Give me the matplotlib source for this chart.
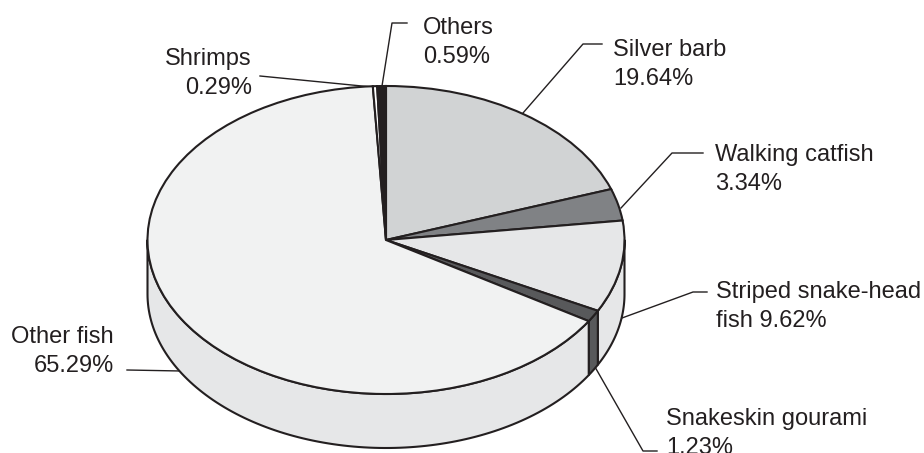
import numpy as np
import matplotlib
matplotlib.use("Agg")
import matplotlib.pyplot as plt
from matplotlib.transforms import Affine2D

plt.rcParams['font.family'] = ['Liberation Sans', 'DejaVu Sans']

# clockwise from twelve o'clock
species = ['Silver barb', 'Walking catfish', 'Striped snake-head fish', 'Snakeskin gourami',
           'Other fish', 'Shrimps', 'Others']
shares = [19.64, 3.34, 9.62, 1.23, 65.29, 0.29, 0.59]
top_colors = ['#d1d3d4', '#808285', '#e6e7e8', '#58595b', '#f1f2f2', '#ffffff', '#231f20']
side_colors = ['#d1d3d4', '#808285', '#e6e7e8', '#58595b', '#e6e7e8', '#ffffff', '#231f20']

W, H = 924, 453
CX, CY = 386, 240    # pie centre in pixels
RX, RY = 238.5, 154  # radii in pixels
DEPTH = 54 / RY      # thickness of the disc
INK = '#231f20'

fig = plt.figure(figsize=(W / 100, H / 100), dpi=100)
ax = fig.add_axes([0, 0, 1, 1])

wedges, _ = ax.pie(shares, colors=top_colors, startangle=90, counterclock=False, radius=1,
                   wedgeprops={'edgecolor': INK, 'linewidth': 1.5, 'zorder': 3})
# squash the circle into a tilted disc
ax.set_aspect('auto')
ax.set_xlim(-CX / RX, (W - CX) / RX)
ax.set_ylim(-(H - CY) / RY, CY / RY)
ax.axis('off')

# side wall: only the part of each slice on the near half shows
for w, c in zip(wedges, side_colors):
    t1, t2 = w.theta1 % 360, w.theta2 % 360
    if t2 <= t1:
        t2 += 360
    lo, hi = max(t1, 180), min(t2, 360)
    if hi <= lo:
        continue
    a = np.radians(np.linspace(lo, hi, 120))
    x, y = np.cos(a), np.sin(a)
    ax.fill(np.r_[x, x[::-1]], np.r_[y, y[::-1] - DEPTH], facecolor=c, edgecolor=INK,
            linewidth=1.5, zorder=2, joinstyle='round')

px = Affine2D().scale(1 / W, -1 / H).translate(0, 1) + fig.transFigure

# leader lines, pixel positions
leaders = [
    [(523, 113), (583, 44), (602, 44)],
    [(621, 208), (672, 153), (703, 153)],
    [(622, 318), (693, 292), (707, 292)],
    [(595, 367), (643, 451), (657, 451)],
    [(181, 371), (127, 370)],
    [(372, 87), (260, 76)],
    [(382, 86), (392, 23), (407, 23)],
]
for pts in leaders:
    xs, ys = zip(*pts)
    ax.plot(xs, ys, color=INK, lw=1.0, transform=px, zorder=1, clip_on=False)

font = 17
labels = [
    (613, 39, 'Silver barb\n19.64%', 'left'),
    (715, 144, 'Walking catfish\n3.34%', 'left'),
    (716, 281, 'Striped snake-head\nfish 9.62%', 'left'),
    (666, 408, 'Snakeskin gourami\n1.23%', 'left'),
    (114, 326, 'Other fish\n65.29%', 'right'),
    (252, 48, 'Shrimps\n0.29%', 'right'),
    (423, 17, 'Others\n0.59%', 'left'),
]
for x, y, s, ha in labels:
    ax.text(x, y, s, transform=px, ha=ha, va='top', fontsize=font, color=INK,
            linespacing=1.41, multialignment=ha)

fig.savefig('out.png', dpi=100, facecolor='white')
